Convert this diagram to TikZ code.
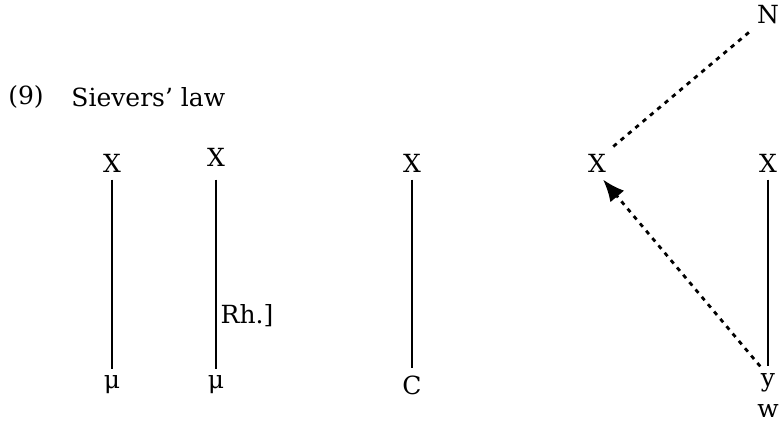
\documentclass[tikz,border=0pt]{standalone}
\usepackage{fontspec}
\setmainfont{DejaVu Serif}
\usepackage{tikz}
\usetikzlibrary{arrows.meta}

\tikzset{
  seg/.style={font=\fontsize{12.5}{15}\selectfont, inner sep=3.5pt},
  assoc/.style={line width=1pt},
  spread/.style={line width=1.4pt, dash pattern=on 2.2pt off 2.6pt},
}

\begin{document}
\begin{tikzpicture}[x=0.5pt,y=-0.5pt]
\useasboundingbox (0,0) rectangle (780,423);
\node[seg] (num) at (26,97) {(9)};
\node[seg,anchor=west] (title) at (64,97) {Sievers’ law};
% skeleton
\node[seg] (x1) at (112,163) {X};
\node[seg] (x2) at (216,157) {X};
\node[seg] (x3) at (412,163) {X};
\node[seg] (x4) at (597,163) {X};
\node[seg] (x5) at (768,163) {X};
\node[seg] (n) at (768,15) {N};
% melody
\node[seg] (m1) at (112,385) {μ};
\node[seg] (m2) at (216,385) {μ};
\node[seg] (c) at (412,385) {C};
\node[seg] (y) at (768,383) {y};
\node[seg] (w) at (768,411) {w};
\node[seg] (rh) at (247,316) {Rh.]};
\draw[assoc] (x1.south) -- (m1.north);
\draw[assoc] (x2.south) ++(0,6) -- (m2.north);
\draw[assoc] (x3.south) -- (c.north);
\draw[assoc] (x5.south) -- (y.north);
\draw[spread] (x4.north east) -- (n.south west);
\draw[spread,-{Latex[length=11pt,width=9pt]}] (y.115) -- (x4.-70);
\end{tikzpicture}
\end{document}
